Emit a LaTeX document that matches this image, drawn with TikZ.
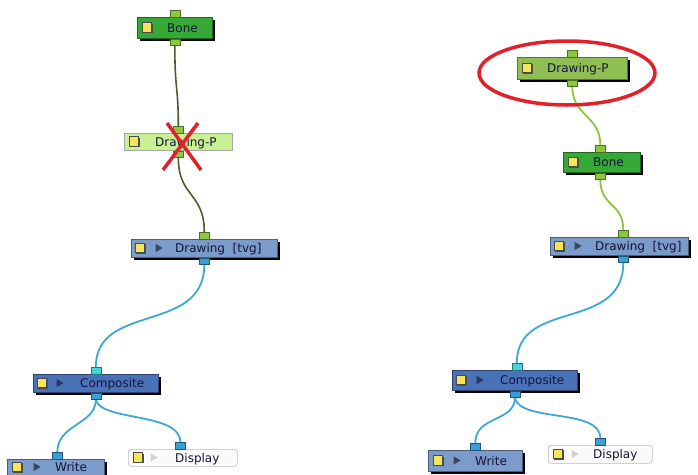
\documentclass[tikz,border=0pt]{standalone}
\usepackage{fontspec}
\setmainfont{DejaVu Sans}
\usetikzlibrary{shapes.geometric,shadows}
\definecolor{bonegreen}{HTML}{35A835}
\definecolor{dpgreen}{HTML}{8FBF52}
\definecolor{dpoff}{HTML}{C9F092}
\definecolor{drwblue}{HTML}{7B9BCB}
\definecolor{compblue}{HTML}{4A72B8}
\definecolor{portgreen}{HTML}{8DC63F}
\definecolor{portblue}{HTML}{3A9FD6}
\definecolor{portcyan}{HTML}{44D4DA}
\definecolor{linkolive}{HTML}{4B5E2A}
\definecolor{linkgreen}{HTML}{8CC63F}
\definecolor{linkblue}{HTML}{3CA9D4}
\definecolor{txt}{HTML}{14143A}
\definecolor{iconyellow}{HTML}{F8E45A}
\definecolor{marker}{HTML}{E2202A}
\pgfdeclarelayer{bg}
\pgfsetlayers{bg,main}
\tikzset{
  box/.style={draw=#1!60!black, line width=0.6pt, rectangle, inner sep=0pt, anchor=north west,
    drop shadow={shadow xshift=3pt, shadow yshift=-3pt, fill=black, opacity=1}},
  flatbox/.style={draw=#1, line width=0.6pt, rectangle, inner sep=0pt, anchor=north west},
  lbl/.style={anchor=base west, inner sep=0pt, text=txt, font=\fontsize{12}{14}\selectfont},
  icon/.style={draw=black!70, fill=iconyellow, line width=0.6pt, minimum size=9.5pt, inner sep=0pt,
    drop shadow={shadow xshift=1.2pt, shadow yshift=-1.2pt, fill=black!70, opacity=1}},
  tri/.style={isosceles triangle, isosceles triangle apex angle=60, minimum height=7pt, minimum width=8pt, inner sep=0pt, fill=#1},
  port/.style={draw=#1!55!black, fill=#1, line width=0.5pt, minimum width=10pt, minimum height=6.5pt, inner sep=0pt},
  link/.style={draw=#1, line width=1.8pt},
}
\begin{document}
\begin{tikzpicture}[x=1pt,y=-1pt]
\useasboundingbox (0,0) rectangle (698,474);

% ---------------- left graph ----------------
\node[box=bonegreen, fill=bonegreen, minimum width=75, minimum height=21] (boneL) at (137,17) {};
\node[icon] (boneLic) at (147,27.5) {};
\node[lbl] (boneLt) at (167,32) {Bone};
\node[port=portgreen, anchor=south] (boneLi) at (boneL.north) {};
\node[port=portgreen, anchor=north] (boneLo) at (boneL.south) {};

\node[flatbox=gray!70, fill=dpoff, minimum width=108, minimum height=17] (dpL) at (124,133) {};
\node[icon, drop shadow={opacity=0}] (dpLic) at (134,141.5) {};
\node[lbl] (dpLt) at (155,146) {Drawing-P};
\node[port=portgreen, anchor=south] (dpLi) at (dpL.north) {};
\node[port=portgreen, anchor=north] (dpLo) at (dpL.south) {};

\node[box=drwblue, fill=drwblue, minimum width=146, minimum height=18] (drwL) at (131,239) {};
\node[icon] (drwLic) at (140,248) {};
\node[tri=drwblue!45!black] (drwLtr) at (158,248) {};
\node[lbl] (drwLt) at (175,252.5) {Drawing\ \ [tvg]};
\node[port=portgreen, anchor=south] (drwLi) at (drwL.north) {};
\node[port=portblue, anchor=north] (drwLo) at (drwL.south) {};

\node[box=compblue, fill=compblue, minimum width=125, minimum height=18] (compL) at (33,374) {};
\node[icon] (compLic) at (42,383) {};
\node[tri=compblue!50!black] (compLtr) at (59,383) {};
\node[lbl] (compLt) at (80,387.5) {Composite};
\node[port=portcyan, anchor=south] (compLi) at (compL.north) {};
\node[port=portblue, anchor=north] (compLo) at (compL.south) {};

\node[box=drwblue, fill=drwblue, minimum width=97, minimum height=20] (writeL) at (7,459) {};
\node[icon] (writeLic) at (17,467) {};
\node[tri=drwblue!45!black] (writeLtr) at (36,467) {};
\node[lbl] (writeLt) at (55,471.5) {Write};
\node[port=portblue, anchor=south] (writeLi) at ([xshift=1.5pt]writeL.north) {};

\node[flatbox=gray!55, fill=gray!4, rounded corners=3pt, minimum width=109, minimum height=17] (dispL) at (128,449) {};
\node[icon] (dispLic) at (138,457.5) {};
\node[tri=gray!35] (dispLtr) at (153,457.5) {};
\node[lbl] (dispLt) at (175,462) {Display};
\node[port=portblue, anchor=south] (dispLi) at ([xshift=-2.5pt]dispL.north) {};

% ---------------- right graph ----------------
\node[box=dpgreen, fill=dpgreen, minimum width=110, minimum height=22] (dpR) at (517,57) {};
\node[icon] (dpRic) at (527,68) {};
\node[lbl] (dpRt) at (547,72.5) {Drawing-P};
\node[port=portgreen, anchor=south] (dpRi) at (dpR.north) {};
\node[port=portgreen, anchor=north] (dpRo) at (dpR.south) {};

\node[box=bonegreen, fill=bonegreen, minimum width=77, minimum height=20] (boneR) at (563,152) {};
\node[icon] (boneRic) at (573,162) {};
\node[lbl] (boneRt) at (593,166.5) {Bone};
\node[port=portgreen, anchor=south] (boneRi) at ([xshift=-1.5pt]boneR.north) {};
\node[port=portgreen, anchor=north] (boneRo) at ([xshift=-1.5pt]boneR.south) {};

\node[box=drwblue, fill=drwblue, minimum width=138, minimum height=18] (drwR) at (550,237) {};
\node[icon] (drwRic) at (559,246) {};
\node[tri=drwblue!45!black] (drwRtr) at (577,246) {};
\node[lbl] (drwRt) at (595,250.5) {Drawing\ \ [tvg]};
\node[port=portgreen, anchor=south] (drwRi) at ([xshift=4pt]drwR.north) {};
\node[port=portblue, anchor=north] (drwRo) at ([xshift=4pt]drwR.south) {};

\node[box=compblue, fill=compblue, minimum width=125, minimum height=20] (compR) at (452,370) {};
\node[icon] (compRic) at (461,380) {};
\node[tri=compblue!50!black] (compRtr) at (479,380) {};
\node[lbl] (compRt) at (500,384.5) {Composite};
\node[port=portcyan, anchor=south] (compRi) at ([xshift=2pt]compR.north) {};
\node[port=portblue, anchor=north] (compRo) at (compR.south) {};

\node[box=drwblue, fill=drwblue, minimum width=94, minimum height=21] (writeR) at (428,450) {};
\node[icon] (writeRic) at (438,460.5) {};
\node[tri=drwblue!45!black] (writeRtr) at (456,460.5) {};
\node[lbl] (writeRt) at (475,465) {Write};
\node[port=portblue, anchor=south] (writeRi) at (writeR.north) {};

\node[flatbox=gray!55, fill=gray!4, rounded corners=3pt, minimum width=104, minimum height=18] (dispR) at (548,445) {};
\node[icon] (dispRic) at (558,454) {};
\node[tri=gray!35] (dispRtr) at (574,454) {};
\node[lbl] (dispRt) at (593,458.5) {Display};
\node[port=portblue, anchor=south] (dispRi) at (dispR.north) {};

% ---------------- connectors ----------------
\begin{pgfonlayer}{bg}
\draw[link=linkolive, line width=1.6pt] (boneLo.south) .. controls +(0,45) and +(0,-40) .. (dpLi.north);
\draw[link=linkolive, line width=1.6pt] (dpLo.south) .. controls +(0,40) and +(0,-40) .. (drwLi.north);
\draw[link=linkblue] (drwLo.south) .. controls +(0,70) and +(0,-65) .. (compLi.north);
\draw[link=linkblue] (compLo.south) .. controls +(0,25) and +(0,-28) .. (writeLi.north);
\draw[link=linkblue] (compLo.south) .. controls +(5,22) and +(0,-30) .. (dispLi.north);

\draw[link=linkgreen] (dpRo.south) .. controls +(0,30) and +(0,-30) .. (boneRi.north);
\draw[link=linkgreen] (boneRo.south) .. controls +(0,28) and +(0,-28) .. (drwRi.north);
\draw[link=linkblue] (drwRo.south) .. controls +(0,70) and +(0,-65) .. (compRi.north);
\draw[link=linkblue] (compRo.south) .. controls +(0,25) and +(0,-28) .. (writeRi.north);
\draw[link=linkblue] (compRo.south) .. controls +(5,25) and +(0,-30) .. (dispRi.north);
\end{pgfonlayer}

% ---------------- markers ----------------
\draw[marker, line width=3.5pt] (167,123) -- (201,170);
\draw[marker, line width=3.5pt] (198,123) -- (163,170);
\node[draw=marker, line width=3.5pt, ellipse, minimum width=176, minimum height=64] (ring) at (567,73) {};
\end{tikzpicture}
\end{document}
